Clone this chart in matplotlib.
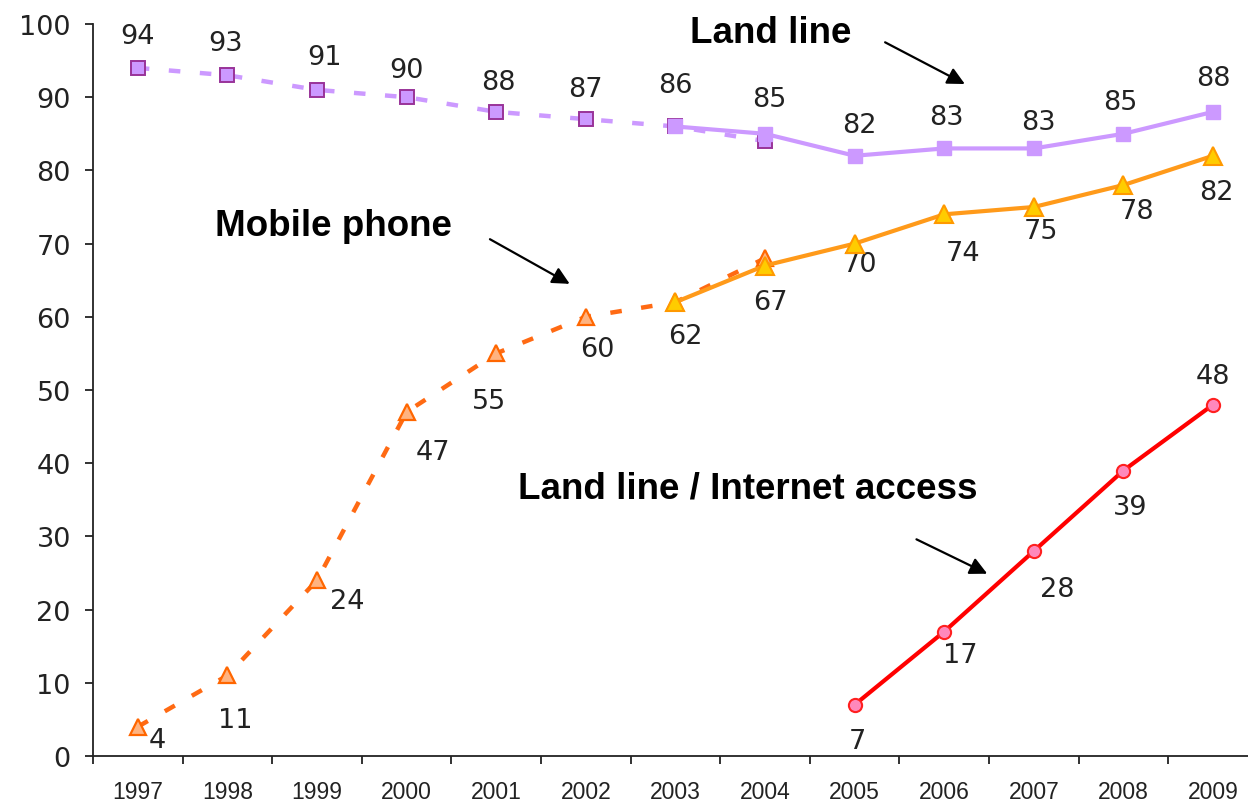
import matplotlib.pyplot as plt
import numpy as np

# survey years and household shares (%)
years = ['1997', '1998', '1999', '2000', '2001', '2002', '2003',
         '2004', '2005', '2006', '2007', '2008', '2009']

# old series (1997-2004), dashed
land_old = [94, 93, 91, 90, 88, 87, 86, 84]
mobile_old = [4, 11, 24, 47, 55, 60, 62, 68]

# new series (2003-2009), solid
land_new = [86, 85, 82, 83, 83, 85, 88]
mobile_new = [62, 67, 70, 74, 75, 78, 82]

# land line / internet access (2005-2009)
internet = [7, 17, 28, 39, 48]

land_old_lbl = [94, 93, 91, 90, 88, 87]
mobile_old_lbl = [4, 11, 24, 47, 55, 60]

x_old = np.arange(0, 8)
x_new = np.arange(6, 13)
x_net = np.arange(8, 13)

plt.rcParams['font.family'] = ['DejaVu Sans']

fig = plt.figure(figsize=(12.48, 8.03), dpi=100)
ax = fig.add_axes([93 / 1248, 1 - 757 / 803, 1 - 93 / 1248, (757 - 25) / 803])

LAND = '#cc99ff'
dash = (0, (2.6, 4.4))

# dashed old series
ax.plot(x_old, land_old, color=LAND, lw=3.2, linestyle=dash, zorder=2)
ax.plot(x_old, land_old, ls='none', marker='s', ms=9.5, mfc=LAND, mec='#993399', mew=1.4, zorder=3)
ax.plot(x_old, mobile_old, color='#ff6a13', lw=3.2, linestyle=dash, zorder=2)
ax.plot(x_old, mobile_old, ls='none', marker='^', ms=11.5, mfc='#ffb380', mec='#ff6600', mew=1.6, zorder=3)

# solid new series
ax.plot(x_new, land_new, color=LAND, lw=3, marker='s', ms=10.5, mfc=LAND, mec=LAND, zorder=4)
ax.plot(x_new, mobile_new, color='#ff9a1a', lw=3, marker='^', ms=12.5, mfc='#ffcc00', mec='#ff9900', mew=1.5, zorder=4)
ax.plot(x_net, internet, color='#ff0000', lw=3, marker='o', ms=9.5, mfc='#ff88bb', mec='#ff2020', mew=1.5, zorder=4)

lbl = dict(textcoords='offset pixels', ha='center', va='center', fontsize=19.5, color='#222222')

# value labels (pixel offsets from each point)
for xi, v, dx, dy in zip(x_old[:6], land_old_lbl, [0, -2, 7, 0, 2, 0], [32, 32, 33, 27, 30, 30]):
    ax.annotate(str(v), (xi, v), xytext=(dx, dy), **lbl)
for xi, v, dx, dy in zip(x_new, land_new, [0, 4, 5, 2, 5, -3, 0], [41, 35, 31, 31, 26, 32, 34]):
    ax.annotate(str(v), (xi, v), xytext=(dx, dy), **lbl)
for xi, v, dx, dy in zip(x_old[:6], mobile_old_lbl, [20, 8, 30, 26, -7, 11], [-13, -45, -21, -40, -48, -32]):
    ax.annotate(str(v), (xi, v), xytext=(dx, dy), **lbl)
for xi, v, dx, dy in zip(x_new, mobile_new, [10, 5, 5, 19, 7, 14, 3], [-34, -36, -20, -39, -24, -26, -36]):
    ax.annotate(str(v), (xi, v), xytext=(dx, dy), **lbl)
for xi, v, dx, dy in zip(x_net, internet, [3, 16, 23, 7, 0], [-36, -23, -38, -36, 29]):
    ax.annotate(str(v), (xi, v), xytext=(dx, dy), **lbl)

# captions with arrows
cap = dict(fontsize=26.5, fontweight='bold', family='Liberation Sans', ha='center', va='center')
arrow = dict(arrowstyle='-|>', lw=1.6, color='black', mutation_scale=26, shrinkA=0, shrinkB=0)
ax.text(7.065, 98.9, 'Land line', **cap)
ax.annotate('', xy=(9.23, 91.8), xytext=(8.34, 97.5), arrowprops=arrow)
ax.text(2.18, 72.5, 'Mobile phone', **cap)
ax.annotate('', xy=(4.82, 64.5), xytext=(3.93, 70.6), arrowprops=arrow)
ax.text(6.81, 36.6, 'Land line / Internet access', **cap)
ax.annotate('', xy=(9.48, 24.9), xytext=(8.69, 29.6), arrowprops=arrow)

ax.set_xlim(-0.5, 12.39)
ax.set_ylim(0, 100)
ax.set_yticks(np.arange(0, 101, 10))
ax.set_xticks(np.arange(len(years)))
ax.set_xticklabels(years, fontsize=16.5, family='Liberation Sans', color='#222222')
ax.set_xticks(np.arange(-0.5, 12.5, 1), minor=True)
ax.tick_params(axis='x', which='major', length=0, pad=17)
ax.tick_params(axis='x', which='minor', length=6, width=1.3, color='#222222')
ax.tick_params(axis='y', length=6, width=1.3, pad=10, labelsize=19.5, colors='#222222')

for s in ['top', 'right']:
    ax.spines[s].set_visible(False)
for s in ['left', 'bottom']:
    ax.spines[s].set_linewidth(1.3)
    ax.spines[s].set_color('#222222')

fig.savefig('out.png', dpi=100)
